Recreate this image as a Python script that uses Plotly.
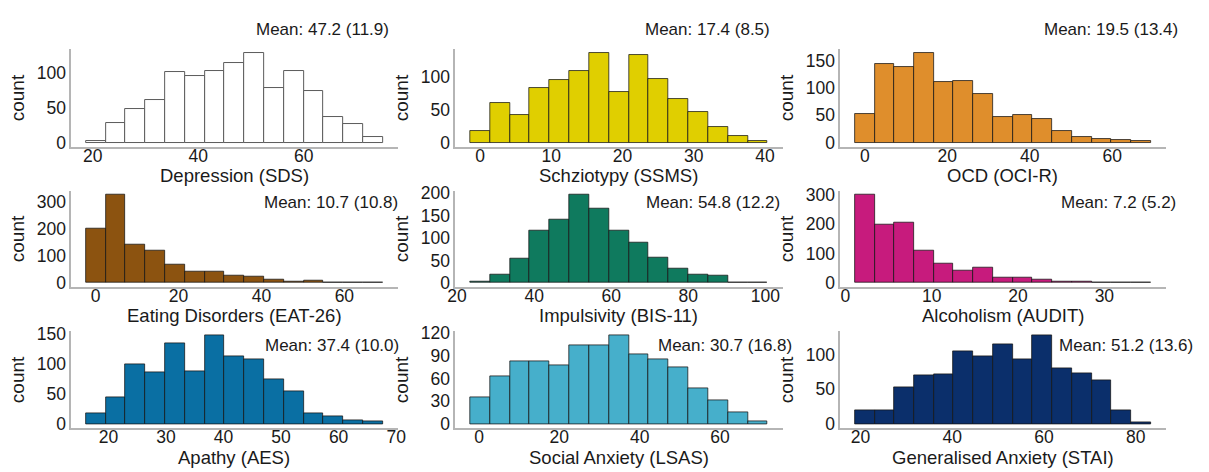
import numpy as np
import plotly.graph_objects as go

W, H = 1209, 472

# ---------------- data ----------------
titles = ["Depression (SDS)", "Schziotypy (SSMS)", "OCD (OCI-R)",
          "Eating Disorders (EAT-26)", "Impulsivity (BIS-11)", "Alcoholism (AUDIT)",
          "Apathy (AES)", "Social Anxiety (LSAS)", "Generalised Anxiety (STAI)"]
mean_labels = ["Mean: 47.2 (11.9)", "Mean: 17.4 (8.5)", "Mean: 19.5 (13.4)",
               "Mean: 10.7 (10.8)", "Mean: 54.8 (12.2)", "Mean: 7.2 (5.2)",
               "Mean: 37.4 (10.0)", "Mean: 30.7 (16.8)", "Mean: 51.2 (13.6)"]

# outer bin edges of the 15-bin histograms
bin_lo = [18.7, -1.4, -2.4, -2.3, 23.4, 1.1, 16.1, -2.2, 18.8]
bin_hi = [75.0, 40.4, 69.4, 69.3, 100.6, 35.4, 67.7, 71.9, 83.3]

depression = [2, 28, 48, 60, 100, 95, 102, 114, 127, 78, 102, 73, 36, 27, 8]
schizotypy = [18, 61, 42, 83, 96, 109, 136, 77, 133, 97, 66, 47, 24, 10, 2]
ocd = [52, 144, 139, 163, 110, 113, 89, 46, 50, 43, 21, 11, 6, 5, 2]
eating = [202, 325, 140, 118, 67, 43, 40, 26, 22, 12, 3, 7, 2, 1, 2]
impulsivity = [2, 19, 54, 116, 140, 196, 166, 116, 89, 57, 32, 19, 15, 1, 1]
alcoholism = [298, 196, 203, 110, 64, 43, 51, 16, 17, 10, 3, 3, 2, 2, 1]
apathy = [17, 45, 100, 86, 135, 87, 147, 112, 108, 74, 55, 18, 12, 6, 4]
social_anxiety = [35, 63, 82, 82, 77, 104, 104, 116, 91, 85, 75, 47, 31, 15, 4]
generalised_anxiety = [19, 20, 53, 70, 71, 104, 98, 115, 93, 127, 80, 73, 63, 20, 3]

counts = [depression, schizotypy, ocd, eating, impulsivity, alcoholism,
          apathy, social_anxiety, generalised_anxiety]

x_dtick = [20, 10, 20, 20, 20, 10, 10, 20, 20]
y_dtick = [50, 50, 50, 100, 50, 100, 50, 30, 50]

# ---------------- style ----------------
fills = ["#FFFFFF", "#E0CF00", "#DF8E2C", "#8C5310", "#0F7A5E",
         "#C71B7D", "#0A6FA3", "#46AFCB", "#0B2F6B"]
edges = ["#5A5A5A"] + ["rgba(20,20,20,0.75)"] * 8
FONT = "Liberation Sans, Arial, sans-serif"
TXT = "#1A1A1A"

col_px = [(64, 395), (453.3, 785), (843.3, 1173.3)]
row_px = [(42.3, 143.3), (188.3, 287.8), (333.3, 433.3)]
# mean label anchor (right edge x, centre y) in pixels
mean_px = [(387, 21.7), (773, 21.7), (1187, 22),
           (396, 200), (783, 200), (1185, 200),
           (397, 347.7), (796, 347.7), (1202, 347.5)]

fig = go.Figure()
layout = dict(width=W, height=H, margin=dict(l=0, r=0, t=0, b=0),
              paper_bgcolor="white", plot_bgcolor="white",
              showlegend=False, bargap=0,
              font=dict(family=FONT, color=TXT, size=18))
annotations = []

for i in range(9):
    r, c = divmod(i, 3)
    k = "" if i == 0 else str(i + 1)
    lo, hi = bin_lo[i], bin_hi[i]
    e = np.linspace(lo, hi, len(counts[i]) + 1)
    centers = (e[:-1] + e[1:]) / 2
    widths = np.diff(e)
    fig.add_trace(go.Bar(x=centers, y=counts[i], width=widths,
                         marker=dict(color=fills[i], line=dict(color=edges[i], width=1)),
                         xaxis="x" + k, yaxis="y" + k, hoverinfo="x+y"))
    span = hi - lo
    ymax = max(counts[i])
    x0, x1 = col_px[c]
    y0, y1 = row_px[r]
    common = dict(showline=True, linecolor="#B5B5B5", linewidth=1.5,
                  showgrid=False, zeroline=False, ticks="",
                  tickfont=dict(size=17.5, color=TXT, family=FONT))
    layout["xaxis" + k] = dict(common, domain=[x0 / W, x1 / W], anchor="y" + k,
                               range=[lo - 0.05 * span, hi + 0.05 * span],
                               dtick=x_dtick[i], tick0=0, ticklabelstandoff=-8)
    layout["yaxis" + k] = dict(common, domain=[1 - y1 / H, 1 - y0 / H], anchor="x" + k,
                               range=[-0.05 * ymax, 1.05 * ymax],
                               dtick=y_dtick[i], tick0=0,
                               title=dict(text="count", standoff=7,
                                          font=dict(size=19, color=TXT, family=FONT)))
    # x-axis title, centred under the panel
    annotations.append(dict(text=titles[i], xref="paper", yref="paper",
                            x=(x0 + x1) / 2 / W, y=1 - (y1 + 29.5) / H,
                            xanchor="center", yanchor="middle", showarrow=False,
                            borderpad=0,
                            font=dict(size=18.5, color=TXT, family=FONT)))
    mx, my = mean_px[i]
    annotations.append(dict(text=mean_labels[i], xref="paper", yref="paper",
                            x=mx / W, y=1 - my / H, xanchor="right", yanchor="middle",
                            showarrow=False, borderpad=0,
                            font=dict(size=17, color=TXT, family=FONT)))

layout["annotations"] = annotations
fig.update_layout(**layout)
fig.write_html("out.html")
